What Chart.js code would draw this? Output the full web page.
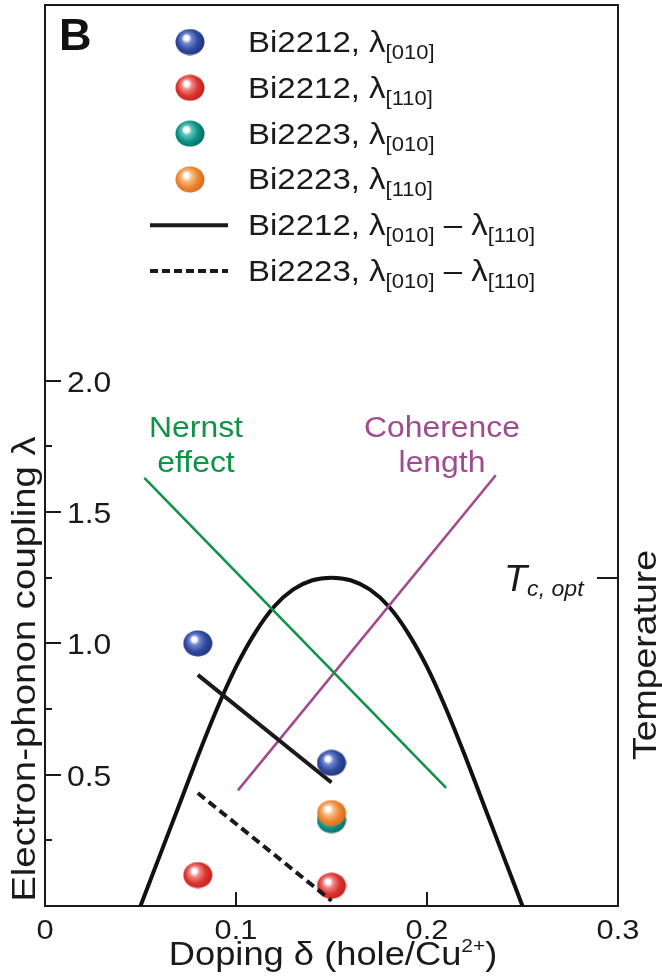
<!DOCTYPE html>
<html>
<head>
<meta charset="utf-8">
<title>Electron-phonon coupling vs doping</title>
<script src="https://cdn.jsdelivr.net/npm/chart.js@4.4.0/dist/chart.umd.min.js"></script>
<style>
  html, body { margin: 0; padding: 0; background: #fff; }
  #wrap { width: 662px; height: 979px; }
</style>
</head>
<body>
<div id="wrap"><canvas id="chart" width="662" height="979"></canvas></div>
<script>
// ---- data ----
const bi2212Doping = [0.08, 0.15];
const bi2212Lambda010 = [1.00, 0.545];
const bi2212Lambda110 = [0.118, 0.077];
const bi2223Doping = [0.15];
const bi2223Lambda010 = [0.327];
const bi2223Lambda110 = [0.354];

const diff2212Doping = [0.08, 0.15];
const diff2212 = [0.88, 0.47];
const diff2223Doping = [0.08, 0.15];
const diff2223 = [0.43, 0.02];

const nernstDoping = [0.052, 0.21];
const nernstLambda = [1.63, 0.45];
const coherenceDoping = [0.101, 0.236];
const coherenceLambda = [0.44, 1.64];

// Tc dome, in units of the left axis
const domeDoping = [0.05, 0.06, 0.07, 0.08, 0.09, 0.10, 0.11, 0.12, 0.13, 0.14, 0.15,
                    0.16, 0.17, 0.18, 0.19, 0.20, 0.21, 0.22, 0.23, 0.24, 0.25];
const domeTc = [0, 0.19, 0.38, 0.57, 0.75, 0.91, 1.04, 1.14, 1.205, 1.24, 1.25,
                1.24, 1.205, 1.14, 1.04, 0.91, 0.75, 0.57, 0.38, 0.19, 0];
const tcOpt = 1.25;

const xTickValues = [0, 0.1, 0.2, 0.3];
const xTickLabels = ['0', '0.1', '0.2', '0.3'];
const yTickValues = [0.25, 0.5, 0.75, 1.0, 1.25, 1.5, 1.75, 2.0];
const yTickLabels = ['', '0.5', '', '1.0', '', '1.5', '', '2.0'];

const FONT = '"Liberation Sans", Arial, sans-serif';
const SX = 1.1; // the original lettering is a bit wide
const INK = '#1a1a1a';

function pts(xs, ys) {
    return xs.map(function (x, i) { return { x: x, y: ys[i] }; });
}

function marble(light, base, dark) {
    const c = document.createElement('canvas');
    c.width = 30; c.height = 27;
    const g = c.getContext('2d');
    const grad = g.createRadialGradient(11, 9, 0.5, 14, 13, 17);
    grad.addColorStop(0, '#ffffff');
    grad.addColorStop(0.12, '#ffffff');
    grad.addColorStop(0.28, light);
    grad.addColorStop(0.6, base);
    grad.addColorStop(1, dark);
    g.fillStyle = grad;
    g.beginPath();
    g.ellipse(15, 13.5, 14.5, 13, 0, 0, Math.PI * 2);
    g.fill();
    return c;
}

const blueBall = marble('#6f86d0', '#2f4a9e', '#1c2c70');
const redBall = marble('#f08a88', '#dd3530', '#b81a1c');
const tealBall = marble('#5fc3b8', '#0e9287', '#006257');
const orangeBall = marble('#f8bf86', '#ee8634', '#cf6418');

function fontStr(size, style, weight) {
    return (style || '') + ' ' + (weight || '') + ' ' + size + 'px ' + FONT;
}

// draws a row of text pieces (for subscripts etc.), horizontally widened
function drawRuns(ctx, runs, x, y, color, align, sx) {
    const k = sx || SX;
    let total = 0;
    runs.forEach(function (r) {
        ctx.font = fontStr(r.size, r.style, r.weight);
        r.w = ctx.measureText(r.text).width * k;
        total += r.w;
    });
    let cx = align === 'center' ? x - total / 2 : (align === 'right' ? x - total : x);
    runs.forEach(function (r) {
        ctx.save();
        ctx.font = fontStr(r.size, r.style, r.weight);
        ctx.fillStyle = color;
        ctx.textAlign = 'left';
        ctx.textBaseline = 'alphabetic';
        ctx.translate(cx, y + (r.dy || 0));
        ctx.scale(k, 1);
        ctx.fillText(r.text, 0, 0);
        ctx.restore();
        cx += r.w;
    });
}

// vertical title reading bottom to top, stretched along its length
function drawRotated(ctx, text, centerY, baseX, size, color, stretch) {
    ctx.save();
    ctx.font = fontStr(size);
    ctx.fillStyle = color;
    ctx.textAlign = 'center';
    ctx.textBaseline = 'alphabetic';
    ctx.translate(baseX, centerY);
    ctx.rotate(-Math.PI / 2);
    ctx.scale(stretch, 1);
    ctx.fillText(text, 0, 0);
    ctx.restore();
}

const decorations = {
    id: 'decorations',
    afterDraw: function (chart) {
        const ctx = chart.ctx;
        const xs = chart.scales.x;
        const ys = chart.scales.y;
        const yr = chart.scales.yT;
        const area = chart.chartArea;

        ctx.save();
        ctx.strokeStyle = INK;
        ctx.lineWidth = 2;
        ctx.lineCap = 'butt';

        // y ticks (pointing inward), labels inside the frame
        ys.ticks.forEach(function (t, i) {
            const py = Math.round(ys.getPixelForValue(t.value));
            const len = yTickLabels[i] ? 16 : 7;
            ctx.beginPath();
            ctx.moveTo(area.left, py);
            ctx.lineTo(area.left + len, py);
            ctx.stroke();
            if (yTickLabels[i]) {
                drawRuns(ctx, [{ text: yTickLabels[i], size: 29 }], area.left + 22, py + 10.5, INK, 'left');
            }
        });

        // x ticks (pointing up), labels below
        xs.ticks.forEach(function (t, i) {
            const px = Math.round(xs.getPixelForValue(t.value));
            if (t.value > 0 && t.value < 0.3) {
                ctx.beginPath();
                ctx.moveTo(px, area.bottom);
                ctx.lineTo(px, area.bottom - 14);
                ctx.stroke();
            }
            drawRuns(ctx, [{ text: xTickLabels[i], size: 28 }], px, area.bottom + 33, INK, 'center');
        });

        // Tc,opt mark on the right axis
        const pTc = Math.round(yr.getPixelForValue(tcOpt));
        ctx.beginPath();
        ctx.moveTo(area.right, pTc);
        ctx.lineTo(area.right - 21, pTc);
        ctx.stroke();
        drawRuns(ctx, [
            { text: 'T', size: 36, style: 'italic' },
            { text: 'c, opt', size: 22, style: 'italic', dy: 5 }
        ], area.right - 114, pTc + 13, INK, 'left', 1.05);

        // axis titles
        drawRuns(ctx, [
            { text: 'Doping \u03b4 (hole/Cu', size: 33 },
            { text: '2+', size: 19, dy: -13 },
            { text: ')', size: 33 }
        ], 333, 965, INK, 'center');
        drawRotated(ctx, 'Electron-phonon coupling \u03bb', 669, 35, 34, INK, 1.13);
        drawRotated(ctx, 'Temperature', 655, 656, 34, INK, 1.1);

        // panel letter
        drawRuns(ctx, [{ text: 'B', size: 45, weight: 'bold' }], 59, 50, '#111', 'left', 1.0);

        // annotations
        const green = '#0f9447';
        const purple = '#a24a8e';
        drawRuns(ctx, [{ text: 'Nernst', size: 29 }], 196, 437, green, 'center');
        drawRuns(ctx, [{ text: 'effect', size: 29 }], 196, 472, green, 'center');
        drawRuns(ctx, [{ text: 'Coherence', size: 29 }], 442, 437, purple, 'center');
        drawRuns(ctx, [{ text: 'length', size: 29 }], 442, 472, purple, 'center');

        // legend
        const legendRows = [
            { ball: blueBall, name: 'Bi2212, \u03bb', a: '[010]' },
            { ball: redBall, name: 'Bi2212, \u03bb', a: '[110]' },
            { ball: tealBall, name: 'Bi2223, \u03bb', a: '[010]' },
            { ball: orangeBall, name: 'Bi2223, \u03bb', a: '[110]' },
            { dash: [], name: 'Bi2212, \u03bb', a: '[010]', b: '[110]' },
            { dash: [8, 4], name: 'Bi2223, \u03bb', a: '[010]', b: '[110]' }
        ];
        legendRows.forEach(function (row, i) {
            const base = 52 + i * 45.8;
            const mid = base - 10;
            if (row.ball) {
                ctx.drawImage(row.ball, 190 - 15, mid - 13.5);
            } else {
                ctx.save();
                ctx.lineWidth = 4;
                ctx.setLineDash(row.dash);
                ctx.beginPath();
                ctx.moveTo(150, mid);
                ctx.lineTo(228, mid);
                ctx.stroke();
                ctx.restore();
            }
            const runs = [
                { text: row.name, size: 30 },
                { text: row.a, size: 20, dy: 7 }
            ];
            if (row.b) {
                runs.push({ text: ' \u2013 \u03bb', size: 30 });
                runs.push({ text: row.b, size: 20, dy: 7 });
            }
            drawRuns(ctx, runs, 248, base, INK, 'left');
        });

        ctx.restore();
    }
};

const ctx = document.getElementById('chart').getContext('2d');

const hiddenTicks = { display: false };
const noGrid = { display: false, drawTicks: false };
const frame = { display: true, color: INK, width: 2 };

const chart = new Chart(ctx, {
    type: 'scatter',
    data: {
        datasets: [
            {
                label: 'Bi2223, \u03bb[110]',
                data: pts(bi2223Doping, bi2223Lambda110),
                pointStyle: orangeBall,
                order: 0
            },
            {
                label: 'Bi2223, \u03bb[010]',
                data: pts(bi2223Doping, bi2223Lambda010),
                pointStyle: tealBall,
                order: 1
            },
            {
                label: 'Bi2212, \u03bb[010]',
                data: pts(bi2212Doping, bi2212Lambda010),
                pointStyle: blueBall,
                order: 1
            },
            {
                label: 'Bi2212, \u03bb[110]',
                data: pts(bi2212Doping, bi2212Lambda110),
                pointStyle: redBall,
                order: 1
            },
            {
                label: 'Bi2223, \u03bb[010] - \u03bb[110]',
                data: pts(diff2223Doping, diff2223),
                showLine: true,
                borderColor: INK,
                borderWidth: 4,
                borderDash: [9, 5],
                pointRadius: 0,
                order: -1
            },
            {
                label: 'Bi2212, \u03bb[010] - \u03bb[110]',
                data: pts(diff2212Doping, diff2212),
                showLine: true,
                borderColor: INK,
                borderWidth: 4,
                pointRadius: 0,
                order: 5
            },
            {
                label: 'Nernst effect',
                data: pts(nernstDoping, nernstLambda),
                showLine: true,
                borderColor: '#0f9447',
                borderWidth: 2.6,
                pointRadius: 0,
                order: 6
            },
            {
                label: 'Coherence length',
                data: pts(coherenceDoping, coherenceLambda),
                showLine: true,
                borderColor: '#a24a8e',
                borderWidth: 2.6,
                pointRadius: 0,
                order: 6
            },
            {
                label: 'Tc dome',
                data: pts(domeDoping, domeTc),
                showLine: true,
                borderColor: '#111',
                borderWidth: 4,
                tension: 0.3,
                pointRadius: 0,
                order: 7
            }
        ]
    },
    options: {
        responsive: false,
        animation: false,
        devicePixelRatio: 1,
        layout: { padding: { top: 4, left: 0, right: 0, bottom: 0 } },
        plugins: {
            legend: { display: false },
            tooltip: { enabled: false }
        },
        scales: {
            x: {
                type: 'linear',
                position: 'bottom',
                min: 0,
                max: 0.3,
                afterBuildTicks: function (s) { s.ticks = xTickValues.map(function (v) { return { value: v }; }); },
                afterFit: function (s) { s.height = 73; },
                ticks: hiddenTicks,
                grid: noGrid,
                border: frame
            },
            xTop: {
                type: 'linear',
                position: 'top',
                min: 0,
                max: 0.3,
                afterFit: function (s) { s.height = 0; },
                ticks: hiddenTicks,
                grid: noGrid,
                border: frame
            },
            y: {
                type: 'linear',
                position: 'left',
                min: 0,
                max: 3.43,
                afterBuildTicks: function (s) { s.ticks = yTickValues.map(function (v) { return { value: v }; }); },
                afterFit: function (s) { s.width = 45; },
                ticks: hiddenTicks,
                grid: noGrid,
                border: frame
            },
            yT: {
                type: 'linear',
                position: 'right',
                min: 0,
                max: 3.43,
                afterFit: function (s) { s.width = 44; },
                ticks: hiddenTicks,
                grid: noGrid,
                border: frame
            }
        }
    },
    plugins: [decorations]
});
</script>
</body>
</html>
